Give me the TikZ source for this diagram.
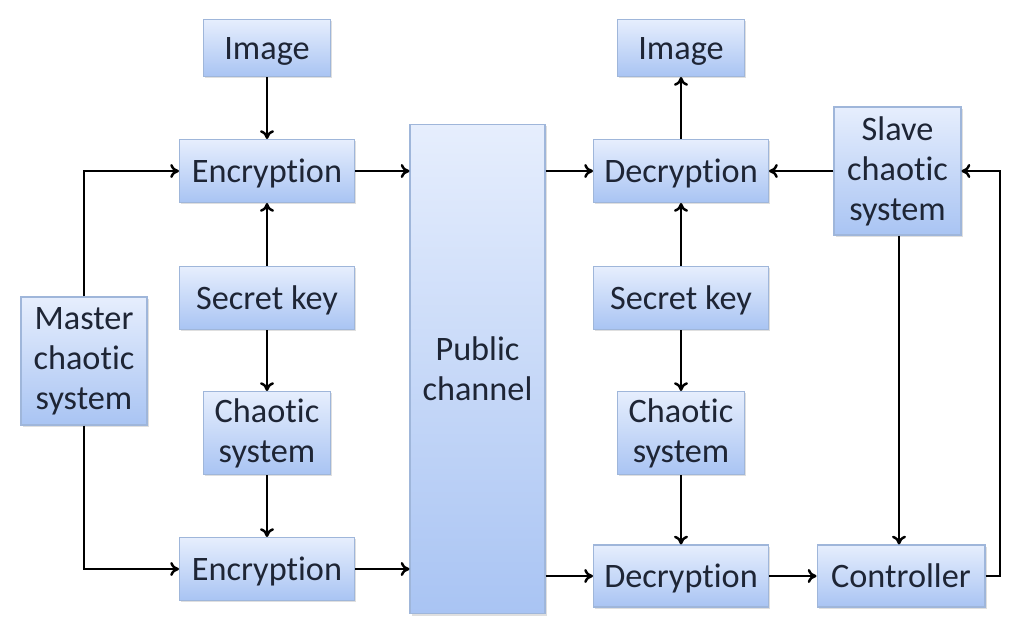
\documentclass[tikz,border=0pt]{standalone}
\usepackage{fontspec}
\setmainfont{Carlito}[Ligatures=NoCommon]
\usetikzlibrary{arrows.meta,shadows}
\definecolor{boxtop}{HTML}{E6EEFD}
\definecolor{boxbot}{HTML}{A9C4F3}
\definecolor{boxline}{HTML}{9FB6DA}
\definecolor{txt}{HTML}{1E2535}
\begin{document}
\begin{tikzpicture}[x=0.02cm,y=-0.02cm,
  blk/.style={draw=boxline,line width=0.6pt,top color=boxtop,bottom color=boxbot,
    align=center,inner sep=0pt,text=txt,
    font=\fontsize{19.5}{22.7}\selectfont,
    drop shadow={opacity=0.25,shadow xshift=1pt,shadow yshift=-1pt}},
  one/.style={blk,text depth=0pt,text height=13pt},
  arr/.style={line width=1.4pt,-{To[length=5pt,width=8pt]}}]
\useasboundingbox (0,0) rectangle (1024,623);
% left
\node[one,minimum width=2.54cm,minimum height=1.14cm] (imgL) at (267,48) {Image};
\node[one,minimum width=3.5cm,minimum height=1.26cm] (encT) at (267,171) {Encryption};
\node[one,minimum width=3.5cm,minimum height=1.26cm] (keyL) at (267,298) {Secret key};
\node[blk,minimum width=2.54cm,minimum height=1.66cm] (chL) at (267,433) {Chaotic\\system};
\node[one,minimum width=3.5cm,minimum height=1.26cm] (encB) at (267,569) {Encryption};
\node[blk,minimum width=2.52cm,minimum height=2.56cm] (master) at (84,361) {Master\\chaotic\\system};
% center
\node[blk,minimum width=2.7cm,minimum height=9.8cm] (pub) at (477.5,369) {Public\\channel};
% right
\node[one,minimum width=2.54cm,minimum height=1.14cm] (imgR) at (681,48) {Image};
\node[one,minimum width=3.5cm,minimum height=1.26cm] (decT) at (681,171) {Decryption};
\node[one,minimum width=3.5cm,minimum height=1.26cm] (keyR) at (681,298) {Secret key};
\node[blk,minimum width=2.54cm,minimum height=1.66cm] (chR) at (681,433) {Chaotic\\system};
\node[one,minimum width=3.5cm,minimum height=1.24cm] (decB) at (681,576) {Decryption};
\node[blk,minimum width=2.54cm,minimum height=2.56cm] (slave) at (897.5,171) {Slave\\chaotic\\system};
\node[one,minimum width=3.36cm,minimum height=1.24cm] (ctrl) at (901,576) {Controller};
\coordinate (fb) at (1000,171);
% connectors left
\draw[arr] (imgL) -- (encT);
\draw[arr] (keyL) -- (encT);
\draw[arr] (keyL) -- (chL);
\draw[arr] (chL) -- (encB);
\draw[arr] (master.north) |- (encT.west);
\draw[arr] (master.south) |- (encB.west);
\draw[arr] (encT.east) -- (encT.east -| pub.west);
\draw[arr] (encB.east) -- (encB.east -| pub.west);
% connectors right
\draw[arr] (decT.west -| pub.east) -- (decT.west);
\draw[arr] (decB.west -| pub.east) -- (decB.west);
\draw[arr] (decT) -- (imgR);
\draw[arr] (keyR) -- (decT);
\draw[arr] (keyR) -- (chR);
\draw[arr] (chR) -- (chR |- decB.north);
\draw[arr] (slave.west) -- (decT.east);
\draw[arr] (slave.south -| 899,0) -- (ctrl.north -| 899,0);
\draw[arr] (decB.east) -- (ctrl.west);
\draw[arr] (ctrl.east) -| (fb) -- (slave.east);
\end{tikzpicture}
\end{document}
